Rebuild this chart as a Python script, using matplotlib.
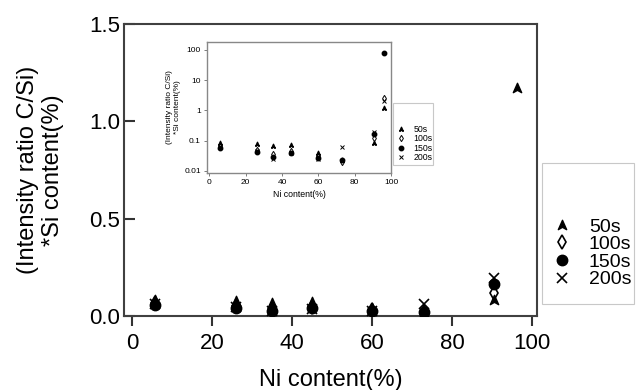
import matplotlib
matplotlib.use("Agg")
import matplotlib.pyplot as plt
from matplotlib.path import Path
from matplotlib.patches import Rectangle
from matplotlib.ticker import FixedLocator, FixedFormatter, NullLocator

plt.rcParams['font.family'] = ['Liberation Sans', 'DejaVu Sans']

# Ni content (%) and C/Si intensity ratio * Si content for each sputter time
ni = [5.8, 26, 35, 45, 60, 73, 90.5, 96.2]
r50 = [0.080, 0.078, 0.066, 0.070, 0.040, 0.022, 0.082, 1.17]
r100 = [0.065, 0.050, 0.035, 0.045, 0.030, 0.019, 0.120, 2.6]
r150 = [0.056, 0.043, 0.028, 0.040, 0.027, 0.023, 0.165, 80.0]
r200 = [0.060, 0.045, 0.025, 0.038, 0.025, 0.062, 0.195, 2.1]
labels = ['50s', '100s', '150s', '200s']

# arrow-head marker for the 50s series
arrow = Path([(0, 1), (0.8, -0.8), (0, -0.35), (-0.8, -0.8), (0, 1)],
             [Path.MOVETO, Path.LINETO, Path.LINETO, Path.LINETO, Path.CLOSEPOLY])

styles = [
    dict(marker=arrow, mfc='black', mec='black'),
    dict(marker='d', mfc='none', mec='black', mew=1.2),
    dict(marker='o', mfc='black', mec='black'),
    dict(marker='x', mfc='black', mec='black', mew=1.2),
]
series = [r50, r100, r150, r200]

fig = plt.figure(figsize=(6.37, 3.9), dpi=100)

# main axes
ax = fig.add_axes([0.1947, 0.1897, 0.6484, 0.7487])
handles = []
for vals, st, lab in zip(series, styles, labels):
    h, = ax.plot(ni, vals, linestyle='none', ms=7.5, label=lab, zorder=3, **st)
    handles.append(h)

ax.set_xlim(-2, 101.25)
ax.set_ylim(0, 1.5)
ax.set_xticks([0, 20, 40, 60, 80, 100])
ax.set_yticks([0.0, 0.5, 1.0, 1.5])
ax.set_yticklabels(['0.0', '0.5', '1.0', '1.5'])
ax.tick_params(axis='x', direction='out', length=7, width=1.5, pad=5,
               labelsize=16, color='#333333')
ax.tick_params(axis='y', direction='in', length=8, width=1.5, pad=3,
               labelsize=16, color='#333333')
for s in ax.spines.values():
    s.set_color('#404040')
    s.set_linewidth(1.5)
ax.set_xlabel('Ni content(%)', fontsize=17, labelpad=11)
ax.set_ylabel('(Intensity ratio C/Si)\n*Si content(%)', fontsize=17,
              multialignment='center')
ax.yaxis.set_label_coords(-0.145, 0.5)

# inset with log scale
axi = fig.add_axes([0.325, 0.5564, 0.2889, 0.3359])
for vals, st, lab in zip(series, styles, labels):
    st2 = dict(st)
    if 'mew' in st2:
        st2['mew'] = 0.7
    axi.plot(ni, vals, linestyle='none', ms=3.2, label=lab, **st2)
axi.set_yscale('log')
axi.set_xlim(-1.3, 100)
axi.set_ylim(0.0084, 184)
axi.set_xticks([0, 20, 40, 60, 80, 100])
yt = [0.01, 0.1, 1, 10, 100]
axi.yaxis.set_major_locator(FixedLocator(yt))
axi.yaxis.set_major_formatter(FixedFormatter(['0.01', '0.1', '1', '10', '100']))
axi.yaxis.set_minor_locator(NullLocator())
axi.tick_params(direction='out', length=2.5, width=0.6, pad=2, labelsize=6,
                color='#666666')
for s in axi.spines.values():
    s.set_color('#888888')
    s.set_linewidth(1.0)
axi.set_xlabel('Ni content(%)', fontsize=6.3, labelpad=3)
axi.set_ylabel('(Intensity ratio C/Si)\n*Si content(%)', fontsize=6,
               multialignment='center', labelpad=2)

# inset legend
fig.patches.append(Rectangle((0.617, 0.5769), 0.0628, 0.159, transform=fig.transFigure,
                             facecolor='white', edgecolor='#c8c8c8', lw=0.8, zorder=1))
ih = []
for vals, st, lab in zip(series, styles, labels):
    st2 = dict(st)
    if 'mew' in st2:
        st2['mew'] = 0.7
    h, = plt.plot([], [], linestyle='none', ms=3.2, label=lab, **st2)
    ih.append(h)
leg1 = fig.legend(handles=ih, loc='upper left', bbox_to_anchor=(0.6226, 0.6795),
                  frameon=False, fontsize=6.3, borderpad=0, borderaxespad=0,
                  handlelength=1.0, handletextpad=0.9, labelspacing=0.05)
leg1.set_zorder(2)

# main legend
fig.patches.append(Rectangle((0.8509, 0.2205), 0.1444, 0.3615, transform=fig.transFigure,
                             facecolor='white', edgecolor='#c8c8c8', lw=0.8, zorder=1))
leg2 = fig.legend(handles=handles, loc='upper left', bbox_to_anchor=(0.8666, 0.441),
                  frameon=False, fontsize=14, borderpad=0, borderaxespad=0,
                  handlelength=1.0, handletextpad=0.9, labelspacing=0.0)
leg2.set_zorder(2)

fig.savefig('out.png', dpi=100)
